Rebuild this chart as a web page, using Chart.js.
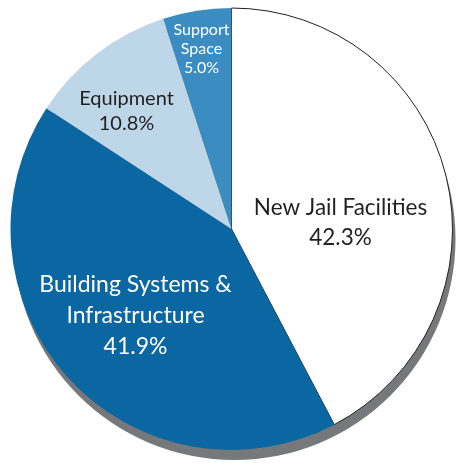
<!DOCTYPE html>
<html>
<head>
<meta charset="utf-8">
<script src="https://cdn.jsdelivr.net/npm/chart.js@4/dist/chart.umd.min.js"></script>
<style>
  html, body { margin: 0; padding: 0; background: #fff; }
  #wrap { width: 458px; height: 466px; }
</style>
</head>
<body>
<div id="wrap"><canvas id="pieChart" width="458" height="466"></canvas></div>
<script>
// Capital spending split, clockwise from 12 o'clock
const categories = ['New Jail Facilities', 'Building Systems & Infrastructure', 'Equipment', 'Support Space'];
const shares = [42.3, 41.9, 10.8, 5.0];
const sliceColors = ['#ffffff', '#0b67a2', '#bdd7e9', '#3a8cc1'];

// label lines per slice (the share is appended as the last line)
const labelLines = [
    ['New Jail Facilities'],
    ['Building Systems &', 'Infrastructure'],
    ['Equipment'],
    ['Support', 'Space']
];

// drop shadow under the whole pie
const shadowPlugin = {
    id: 'pieShadow',
    beforeDatasetsDraw(chart) {
        const arc = chart.getDatasetMeta(0).data[0];
        if (!arc) return;
        const ctx = chart.ctx;
        ctx.save();
        ctx.fillStyle = '#77787b';
        ctx.beginPath();
        ctx.arc(arc.x + 3, arc.y + 10, arc.outerRadius, 0, Math.PI * 2);
        ctx.fill();
        ctx.restore();
    }
};

// text placed inside each slice, offsets from the pie centre
const labelSpots = [
    { dx: 109, dy: -14, size: 22.5, gap: 30, color: '#231f20' },
    { dx: -96, dy: 63, size: 23, gap: 31, color: '#ffffff' },
    { dx: -105, dy: -124, size: 20, gap: 25, color: '#231f20' },
    { dx: -30, dy: -194, size: 16, gap: 19, color: '#ffffff' }
];

const sliceLabels = {
    id: 'sliceLabels',
    afterDatasetsDraw(chart) {
        const arc = chart.getDatasetMeta(0).data[0];
        if (!arc) return;
        const ctx = chart.ctx;
        ctx.save();
        ctx.textAlign = 'center';
        ctx.textBaseline = 'alphabetic';
        labelSpots.forEach((spot, i) => {
            const lines = labelLines[i].concat([shares[i].toFixed(1) + '%']);
            ctx.font = spot.size + 'px Lato, "Open Sans", sans-serif';
            ctx.fillStyle = spot.color;
            lines.forEach((line, j) => {
                ctx.fillText(line, arc.x + spot.dx, arc.y + spot.dy + j * spot.gap);
            });
        });
        ctx.restore();
    }
};

const ctx = document.getElementById('pieChart').getContext('2d');
new Chart(ctx, {
    type: 'pie',
    data: {
        labels: categories,
        datasets: [{
            data: shares,
            backgroundColor: sliceColors,
            borderColor: ['#231f20', sliceColors[1], sliceColors[2], sliceColors[3]],
            borderWidth: [1, 0, 0, 0]
        }]
    },
    options: {
        responsive: false,
        animation: false,
        layout: { padding: { left: 10, top: 6, right: 5, bottom: 14 } },
        plugins: {
            legend: { display: false },
            tooltip: { enabled: false }
        }
    },
    plugins: [shadowPlugin, sliceLabels]
});
</script>
</body>
</html>
